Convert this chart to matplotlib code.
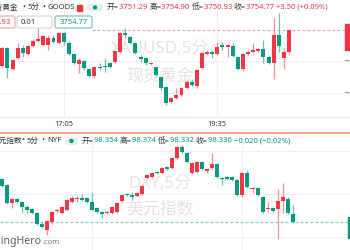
import matplotlib
matplotlib.use("Agg")
import matplotlib.pyplot as plt
from matplotlib.patches import FancyBboxPatch, Rectangle, Circle
import numpy as np

plt.rcParams['font.family'] = ['Noto Sans', 'Noto Sans CJK SC', 'DejaVu Sans']

RED = '#F23645'
GREEN = '#089981'
RED_WICK = '#f4909a'
GREEN_WICK = '#6cc3ae'

# ---------------- data: spot gold (XAUUSD), 5 min ----------------
gold_tick_pos = [12, 42]
gold_tick_labels = ['17:05', '19:35']
gold_open = [3749.15, 3751.92, 3748.69, 3750.38, 3751.92, 3751.00, 3752.23, 3753.00, 3752.38, 3752.38,
             3753.46, 3752.69, 3754.23, 3752.69, 3751.00, 3749.46, 3749.92, 3748.69, 3747.62, 3749.00,
             3749.08, 3749.62, 3749.77, 3751.31, 3754.23, 3753.62, 3752.69, 3750.54, 3750.38, 3749.46,
             3749.00, 3747.46, 3745.92, 3743.62, 3744.23, 3744.69, 3745.77, 3746.69, 3746.08, 3748.85,
             3751.00, 3751.31, 3751.00, 3752.38, 3752.08, 3752.23, 3750.54, 3748.69, 3751.00, 3751.31,
             3751.46, 3751.77, 3750.54, 3749.62, 3753.92, 3750.38, 3751.29]
gold_high = [3752.08, 3752.08, 3750.23, 3752.69, 3752.38, 3752.38, 3753.31, 3755.15, 3753.92, 3753.92,
             3753.92, 3754.38, 3754.38, 3753.00, 3751.15, 3750.38, 3750.08, 3748.85, 3749.15, 3749.62,
             3750.38, 3749.77, 3751.62, 3754.38, 3755.00, 3753.77, 3752.85, 3750.85, 3750.54, 3749.77,
             3749.15, 3747.62, 3746.08, 3744.38, 3745.77, 3745.92, 3747.00, 3747.15, 3748.69, 3751.31,
             3751.62, 3751.62, 3752.85, 3752.85, 3752.69, 3752.69, 3750.69, 3751.15, 3751.62, 3752.69,
             3751.92, 3753.15, 3750.69, 3756.54, 3757.31, 3751.92, 3754.90]
gold_low = [3749.00, 3747.31, 3748.54, 3750.23, 3750.54, 3750.85, 3752.08, 3752.85, 3752.23, 3751.62,
            3752.69, 3752.54, 3752.38, 3750.85, 3749.46, 3748.08, 3748.54, 3747.46, 3747.31, 3748.54,
            3748.23, 3748.85, 3749.62, 3751.15, 3753.46, 3752.54, 3751.00, 3749.77, 3749.31, 3749.31,
            3747.62, 3745.46, 3743.15, 3743.46, 3744.08, 3744.54, 3745.62, 3746.08, 3745.77, 3748.69,
            3750.85, 3750.38, 3750.85, 3751.62, 3750.54, 3750.54, 3748.54, 3748.38, 3750.85, 3751.15,
            3751.31, 3749.62, 3749.46, 3747.15, 3751.31, 3748.69, 3750.93]
gold_close = [3751.92, 3748.85, 3750.08, 3751.92, 3751.15, 3752.23, 3753.00, 3753.31, 3753.77, 3753.46,
              3752.85, 3754.23, 3752.85, 3751.00, 3749.62, 3750.08, 3748.85, 3747.62, 3749.00, 3748.92,
              3749.00, 3749.00, 3751.46, 3754.23, 3753.92, 3752.69, 3751.15, 3750.23, 3749.62, 3749.69,
              3747.77, 3745.77, 3743.46, 3744.23, 3744.69, 3745.77, 3746.69, 3746.23, 3748.54, 3751.15,
              3751.31, 3751.00, 3752.08, 3752.08, 3752.38, 3750.69, 3748.69, 3751.00, 3751.31, 3751.62,
              3751.77, 3750.54, 3749.62, 3753.92, 3752.23, 3751.31, 3754.77]
gold_grid = [3745, 3750]
gold_boxes = ['3750.93', '0.01', '3754.77']

# ---------------- data: US dollar index (DXY), 5 min ----------------
dxy_grid_pos = [18, 48]
dxy_grid = [98.30, 98.40, 98.50]
dxy_open = [98.435, 98.421, 98.379, 98.388, 98.381, 98.370, 98.365, 98.356, 98.330, 98.316,
            98.335, 98.360, 98.356, 98.363, 98.381, 98.388, 98.391, 98.391, 98.381, 98.367,
            98.358, 98.356, 98.356, 98.358, 98.384, 98.400, 98.398, 98.395, 98.400, 98.437,
            98.440, 98.451, 98.449, 98.463, 98.460, 98.484, 98.509, 98.495, 98.449, 98.451,
            98.474, 98.453, 98.460, 98.470, 98.437, 98.440, 98.440, 98.433, 98.398, 98.449,
            98.412, 98.414, 98.393, 98.365, 98.367, 98.365, 98.384, 98.388, 98.354]
dxy_high = [98.437, 98.423, 98.391, 98.391, 98.384, 98.374, 98.367, 98.358, 98.335, 98.340,
            98.360, 98.365, 98.372, 98.388, 98.395, 98.395, 98.400, 98.393, 98.405, 98.370,
            98.360, 98.360, 98.372, 98.381, 98.400, 98.402, 98.405, 98.405, 98.421, 98.447,
            98.451, 98.453, 98.463, 98.465, 98.486, 98.512, 98.514, 98.498, 98.474, 98.477,
            98.477, 98.458, 98.495, 98.472, 98.440, 98.442, 98.442, 98.435, 98.451, 98.456,
            98.416, 98.416, 98.395, 98.381, 98.370, 98.412, 98.426, 98.393, 98.374]
dxy_low = [98.416, 98.377, 98.367, 98.379, 98.356, 98.356, 98.353, 98.328, 98.321, 98.305,
           98.330, 98.356, 98.353, 98.360, 98.379, 98.381, 98.384, 98.379, 98.360, 98.356,
           98.344, 98.353, 98.353, 98.356, 98.381, 98.395, 98.386, 98.393, 98.398, 98.435,
           98.437, 98.447, 98.447, 98.456, 98.458, 98.481, 98.495, 98.472, 98.447, 98.449,
           98.456, 98.449, 98.458, 98.437, 98.421, 98.433, 98.430, 98.395, 98.393, 98.414,
           98.402, 98.395, 98.356, 98.358, 98.358, 98.295, 98.356, 98.353, 98.332]
dxy_close = [98.419, 98.379, 98.388, 98.381, 98.370, 98.363, 98.356, 98.330, 98.323, 98.337,
             98.358, 98.363, 98.370, 98.386, 98.391, 98.391, 98.386, 98.381, 98.363, 98.358,
             98.353, 98.358, 98.370, 98.379, 98.398, 98.398, 98.393, 98.402, 98.419, 98.444,
             98.449, 98.449, 98.460, 98.458, 98.484, 98.509, 98.498, 98.474, 98.472, 98.474,
             98.458, 98.458, 98.470, 98.440, 98.435, 98.435, 98.433, 98.398, 98.449, 98.416,
             98.414, 98.398, 98.358, 98.367, 98.360, 98.384, 98.393, 98.356, 98.336]

W, H = 350, 250
fig = plt.figure(figsize=(W / 100, H / 100), dpi=100)
fig.patch.set_facecolor('white')


def px_axes(y_top, y_bot):
    return fig.add_axes([0, 1 - y_bot / H, 1, (y_bot - y_top) / H])


def candles(ax, o, h, l, c, width, minh):
    o, h, l, c = map(np.asarray, (o, h, l, c))
    x = np.arange(len(o))
    up = c >= o
    ax.vlines(x, l, h, colors=np.where(up, RED_WICK, GREEN_WICK), lw=0.9, zorder=2)
    ax.bar(x, np.maximum(np.abs(c - o), minh), width, np.minimum(o, c),
           color=np.where(up, RED, GREEN), linewidth=0, zorder=3)


# overlay in pixel coordinates
ov = fig.add_axes([0, 0, 1, 1], zorder=10)
ov.set_xlim(0, W)
ov.set_ylim(H, 0)
ov.axis('off')
ov.patch.set_alpha(0)

# ---- top panel ----
ax1 = px_axes(0, 117)
ax1.set_xlim(-0.449, 67.91)
ax1.set_ylim(3741.31, 3759.31)
for s in ax1.spines.values():
    s.set_visible(False)
ax1.spines['bottom'].set_visible(True)
ax1.spines['bottom'].set_color('#ececec')
ax1.spines['bottom'].set_linewidth(0.8)
ax1.set_yticks([])
ax1.set_xticks(gold_tick_pos)
ax1.set_xticklabels(gold_tick_labels, fontsize=5.3, color='#333333')
ax1.tick_params(axis='x', length=0, pad=3.2)
for p in gold_tick_pos:
    ax1.axvline(p, color='#f0f0f0', lw=0.8, zorder=0)
for g in gold_grid:
    ax1.axhline(g, color='#f0f0f0', lw=0.8, zorder=0)
ax1.text(160, 48.5, 'XAUUSD,5分', transform=ov.transData, ha='center', va='center',
         fontsize=12.2, color='#e3e3e3', zorder=1)
ax1.text(160, 76, '现货黄金', transform=ov.transData, ha='center', va='center',
         fontsize=12.2, color='#e3e3e3', zorder=1)
candles(ax1, gold_open, gold_high, gold_low, gold_close, 0.78, 0.15)
ax1.hlines(gold_close[-1], 17.5, 67.91, colors='#f5a0a8', lw=0.8,
           linestyles=(0, (2.5, 2)), zorder=1)

# ---- bottom panel ----
ax2 = px_axes(135, 250)
ax2.set_xlim(-0.399, 69.46)
ax2.set_ylim(98.2698, 98.5372)
ax2.axis('off')
for p in dxy_grid_pos:
    ax2.axvline(p, color='#f0f0f0', lw=0.8, zorder=0)
for g in dxy_grid:
    ax2.axhline(g, color='#f0f0f0', lw=0.8, zorder=0)
ax2.text(160, 184, 'DXY,5分', transform=ov.transData, ha='center', va='center',
         fontsize=12.2, color='#e3e3e3', zorder=1)
ax2.text(160, 210, '美元指数', transform=ov.transData, ha='center', va='center',
         fontsize=12.2, color='#e3e3e3', zorder=1)
candles(ax2, dxy_open, dxy_high, dxy_low, dxy_close, 0.8, 0.0024)
ax2.axhline(dxy_close[-1], color='#7fcab8', lw=0.8, linestyle=(0, (2.5, 2)), zorder=1)


# ---- overlay texts ----
FS = 5.5
DK = '#333333'


def chain(x, y, parts, fs=FS):
    prev = None
    for s, col in parts:
        if prev is None:
            prev = ov.text(x, y, s, color=col, fontsize=fs, ha='left', va='center')
        else:
            prev = ov.annotate(s, xy=(1, y), xycoords=(prev, 'data'), color=col,
                               fontsize=fs, ha='left', va='center')
    return prev


def title(y, name, bx1, px, bx2, code, cx):
    ov.text(name[1], y, name[0], fontsize=FS, color=DK, ha='left', va='center')
    ov.text(bx1, y, '•', fontsize=FS, color=DK, ha='center', va='center')
    ov.text(px, y, '5分', fontsize=FS, color=DK, ha='left', va='center')
    ov.text(bx2, y, '•', fontsize=FS, color=DK, ha='center', va='center')
    ov.text(cx, y, code, fontsize=FS, color=DK, ha='left', va='center')


title(7.5, ('现货黄金', -12), 24, 27.5, 43.5, 'GOODS', 47.5)
ov.add_patch(Rectangle((77, 4.5), 5, 6, color=RED))
ov.add_patch(FancyBboxPatch((87, 3.5), 16, 8, boxstyle='round,pad=0,rounding_size=4',
                            fc='#e7efed', ec='none'))
ov.add_patch(Circle((95, 7.5), 1.5, color=GREEN))
chain(107, 7.5, [('开=', DK), ('3751.29 ', RED), ('高=', DK), ('3754.90 ', RED),
                 ('低=', DK), ('3750.93 ', RED), ('收=', DK), ('3754.77 ', RED),
                 ('+3.50 (+0.09%)', RED)])

# value boxes
ov.add_patch(FancyBboxPatch((-3, 16), 18, 12, boxstyle='round,pad=0,rounding_size=2',
                            fc='white', ec='#f4a3aa', lw=0.8))
ov.text(10.5, 22, gold_boxes[0], fontsize=FS, color=RED, ha='right', va='center')
ov.add_patch(FancyBboxPatch((17, 16), 35, 12, boxstyle='round,pad=0,rounding_size=2',
                            fc='white', ec='#d6d6d6', lw=0.8))
ov.text(21, 22, gold_boxes[1], fontsize=FS, color=DK, ha='left', va='center')
ov.add_patch(FancyBboxPatch((55, 16), 37, 12, boxstyle='round,pad=0,rounding_size=2',
                            fc='white', ec='#6cc3ae', lw=0.8))
ov.text(73.5, 22, gold_boxes[2], fontsize=FS, color=GREEN, ha='center', va='center')

# right edge price labels / ticks
ov.add_patch(Rectangle((345, 24), 6, 26, color=RED))
for yy in (60, 92):
    ov.plot([344.5, 347.5], [yy, yy], color='#9a9a9a', lw=0.8)
ov.add_patch(Rectangle((347.5, 217), 3, 21, color=GREEN))

# separator
ov.plot([0, W], [133.2, 133.2], color='#f5a48c', lw=1.5)

# bottom header
title(141, ('美元指数', -8.5), 23, 27, 43, 'NYF', 47)
ov.add_patch(FancyBboxPatch((65, 137), 13, 8, boxstyle='round,pad=0,rounding_size=4',
                            fc='#e7efed', ec='none'))
ov.add_patch(Circle((71.5, 141), 1.5, color=GREEN))
chain(82, 141, [('开=', DK), ('98.354 ', GREEN), ('高=', DK), ('98.374 ', GREEN),
                ('低=', DK), ('98.332 ', GREEN), ('收=', DK), ('98.336 ', GREEN),
                ('−0.020 (−0.02%)', GREEN)])

# logo
ov.text(42, 241.5, 'TradingHero', fontsize=7.6, fontweight='bold', color='#5c5c5c',
        ha='right', va='center')
ov.text(42.5, 243, '.com', fontsize=5.5, color='#7a7a7a', ha='left', va='center')

fig.savefig('out.png', dpi=100, facecolor='white')
